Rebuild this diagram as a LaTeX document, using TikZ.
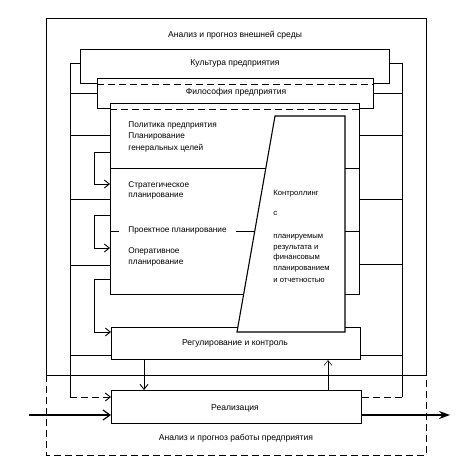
\documentclass[tikz,border=0pt]{standalone}
\usepackage{fontspec}
\setmainfont{Liberation Sans}
\usetikzlibrary{arrows.meta}
\begin{document}
\begin{tikzpicture}[x=1bp,y=-1bp, line width=0.9pt,
  box/.style={draw, fill=white, line width=1.1pt, inner sep=0pt, anchor=north west},
  lbl/.style={font=\fontsize{8.6}{10}\selectfont, inner sep=0pt},
  txt/.style={font=\fontsize{8.3}{10}\selectfont, inner sep=0pt, anchor=west},
  ktxt/.style={font=\fontsize{7.7}{10}\selectfont, inner sep=0pt, anchor=west},
  arr/.style={-{Straight Barb[length=5bp,width=8bp]}},
  dsh/.style={dash pattern=on 7bp off 4bp}]
\useasboundingbox (0,0) rectangle (472,463);
% outer frame
\draw (46,18) rectangle (426,375);
\draw[dsh] (46,375) -- (46,455) -- (426,455) -- (426,375);
% boxes
\node[box, minimum width=309bp, minimum height=34bp] (cult) at (80,49) {};
\node[box, minimum width=276bp, minimum height=30bp] (phil) at (97,78) {};
\draw[dsh] (cult.south -| phil.west) -- (cult.south -| phil.east);
\node[box, minimum width=249bp, minimum height=191bp] (main) at (110,103) {};
\draw[dsh] (phil.south -| main.west) -- (phil.south -| main.east);
\node[box, minimum width=249bp, minimum height=32bp] (reg) at (111,327) {};
\node[box, minimum width=250bp, minimum height=33bp] (real) at (111,390) {};
% bus coordinates
\coordinate (la) at (70,63);  \coordinate (ra) at (402,63);
\coordinate (lb) at (70,93);  \coordinate (rb) at (402,93);
\coordinate (lc) at (70,135); \coordinate (rc) at (402,135);
\coordinate (ld) at (70,199); \coordinate (rd) at (402,199);
\coordinate (le) at (70,265); \coordinate (re) at (402,264);
\coordinate (lf) at (70,355); \coordinate (rf) at (402,355);
\coordinate (lg) at (70,397); \coordinate (rg) at (402,397);
\draw (la) -- (lg);
\draw (ra) -- (rg);
\draw (la) -- (la -| cult.west);  \draw (ra) -- (ra -| cult.east);
\draw (lb) -- (lb -| phil.west);  \draw (rb) -- (rb -| phil.east);
\draw (lc) -- (lc -| main.west);  \draw (rc) -- (rc -| main.east);
\draw (ld) -- (ld -| main.west);  \draw (rd) -- (rd -| main.east);
\draw (le) -- (le -| main.west);  \draw (re) -- (re -| main.east);
\draw (lf) -- (lf -| reg.west);   \draw (rf) -- (rf -| reg.east);
\draw[dsh, arr] (lg) -- (lg -| real.west);
\draw[dsh] (rg -| real.east) -- (rg);
% inner divisions of main box
\draw (main.west |- 0,168) -- (main.east |- 0,168);
\draw (main.west |- 0,231) -- (main.east |- 0,231);
% loops
\coordinate (p1) at (94,152); \coordinate (q1) at (94,184);
\coordinate (p2) at (94,215); \coordinate (q2) at (94,248);
\coordinate (p3) at (94,279); \coordinate (q3) at (94,332);
\draw[arr] (p1 -| main.west) -- (p1) -- (q1) -- (q1 -| main.west);
\draw[arr] (p2 -| main.west) -- (p2) -- (q2) -- (q2 -| main.west);
\draw[arr] (p3 -| main.west) -- (p3) -- (q3) -- (q3 -| reg.west);
% controlling trapezoid
\draw[fill=white, line width=1.1pt] (275,116) -- (345,116) -- (345,332) -- (237,332) -- cycle;
% arrows between reg and real
\coordinate (d1) at (144,0); \coordinate (u1) at (328,0);
\draw[arr] (reg.south -| d1) -- (real.north -| d1);
\draw[arr, line width=0.5pt] (real.north -| u1) -- (reg.south -| u1);
% input / output
\coordinate (in) at (29,415); \coordinate (out) at (450,415);
\draw[line width=1.2pt, -{Straight Barb[length=7bp,width=10bp]}] (in) -- (in -| real.west);
\draw[line width=1.2pt, -{Stealth[length=11bp,width=8bp]}] (out -| real.east) -- (out);
% texts
\node[lbl] (t1) at (235,35) {Анализ и прогноз внешней среды};
\node[lbl] (t2) at (235,63) {Культура предприятия};
\node[lbl] (t3) at (236,92) {Философия предприятия};
\node[txt] (a1) at (128,126) {Политика предприятия};
\node[txt] (a2) at (128,137) {Планирование};
\node[txt] (a3) at (128,148) {генеральных целей};
\node[txt] (b1) at (128,185) {Стратегическое};
\node[txt] (b2) at (128,196) {планирование};
\node[txt, fill=white, inner xsep=9bp] (c1) at (119,231) {Проектное планирование};
\node[txt] (e1) at (128,251) {Оперативное};
\node[txt] (e2) at (128,263) {планирование};
\node[ktxt] (k1) at (273,194) {Контроллинг};
\node[ktxt] (k2) at (273,213) {с};
\node[ktxt] (k3) at (273,237) {планируемым};
\node[ktxt] (k4) at (273,248) {результата и};
\node[ktxt] (k5) at (273,258) {финансовым};
\node[ktxt] (k6) at (273,269) {планированием};
\node[ktxt] (k7) at (273,280) {и отчетностью};
\node[lbl] (t4) at (235,343) {Регулирование и контроль};
\node[lbl] (t5) at (235,408) {Реализация};
\node[lbl] (t6) at (236,438) {Анализ и прогноз работы предприятия};
\end{tikzpicture}
\end{document}
